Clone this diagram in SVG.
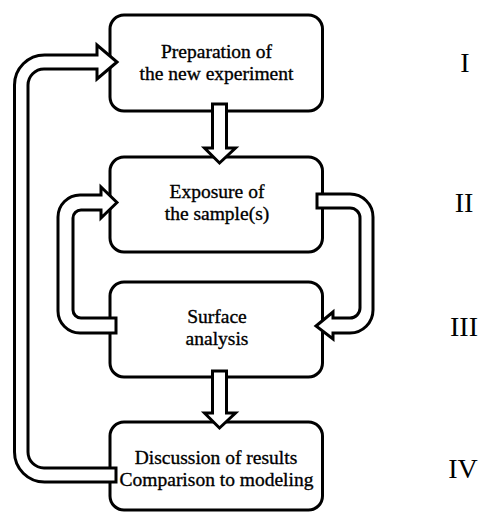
<svg xmlns="http://www.w3.org/2000/svg" width="481" height="512" viewBox="0 0 481 512">
<style>
.box{fill:#fff;stroke:#000;stroke-width:3}
.arr{fill:#fff;stroke:#000;stroke-width:3;stroke-linejoin:miter}
.t{font-family:'Liberation Serif','DejaVu Serif',serif;font-size:19.5px;text-anchor:middle;fill:#000;stroke:#000;stroke-width:0.35}
.n{font-family:'Liberation Serif','DejaVu Serif',serif;font-size:28px;text-anchor:middle;fill:#000}
</style>
<rect width="481" height="512" fill="#fff"/>
<g id="node1"><rect class="box" x="110" y="15" width="212.5" height="96" rx="14"/>
<text class="t" x="216.5" y="58">Preparation of</text><text class="t" x="216.5" y="80">the new experiment</text></g>
<g id="node2"><rect class="box" x="110" y="157" width="212.5" height="95" rx="14"/>
<text class="t" x="217" y="198">Exposure of</text><text class="t" x="217" y="220">the sample(s)</text></g>
<g id="node3"><rect class="box" x="110" y="282" width="212.5" height="95" rx="14"/>
<text class="t" x="217" y="323">Surface</text><text class="t" x="217" y="345">analysis</text></g>
<g id="node4"><rect class="box" x="110" y="422" width="212.5" height="88" rx="14"/>
<text class="t" x="216" y="464">Discussion of results</text><text class="t" x="216.5" y="486">Comparison to modeling</text></g>
<g id="connectors">
<path class="arr" d="M212.5,104 L226.5,104 L226.5,148 L235.5,148 L219.5,163 L204.5,148 L212.5,148 Z"/>
<path class="arr" d="M212.5,371 L226.5,371 L226.5,413 L235.5,413 L219.5,428 L204.5,413 L212.5,413 Z"/>
<path class="arr" d="M117,62 L97,79 L97,69 L44,69 A16,16 0 0 0 28,85 L28,452 A16,16 0 0 0 44,468 L116,468 L116,482 L44.5,482 A30,30 0 0 1 14.5,452 L14.5,85 A30,30 0 0 1 44.5,55 L97,55 L97,45 Z"/>
<path class="arr" d="M317,194 L350,194 A23,23 0 0 1 373,217 L373,310 A23,23 0 0 1 350,333 L333,333 L333,339 L316,326 L333,312 L333,318 L350,318 A10,10 0 0 0 360,308 L360,218 A10,10 0 0 0 350,208 L317,208 Z"/>
<path class="arr" d="M117,202.5 L101,218 L101,210 L81,210 A8,8 0 0 0 73,218 L73,310 A8,8 0 0 0 81,318 L116,318 L116,333 L80,333 A22,22 0 0 1 58,311 L58,217 A22,22 0 0 1 80,195 L101,195 L101,187 Z"/>
</g>
<g id="labels">
<text class="n" x="465" y="72">I</text>
<text class="n" x="464" y="212">II</text>
<text class="n" x="464" y="336">III</text>
<text class="n" x="463" y="478">IV</text>
</g>
</svg>
